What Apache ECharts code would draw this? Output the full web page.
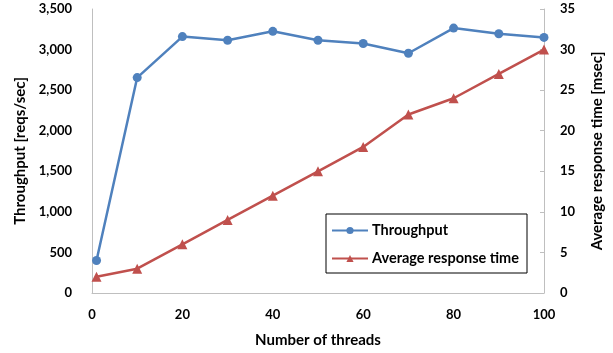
<!DOCTYPE html>
<html><head><meta charset="utf-8">
<script src="https://cdn.jsdelivr.net/npm/echarts@6/dist/echarts.min.js"></script>
<style>html,body{margin:0;padding:0;background:#fff}#c{width:613px;height:353px}</style>
</head><body><div id="c"></div>
<script>
const threads = [1, 10, 20, 30, 40, 50, 60, 70, 80, 90, 100];
const throughput = [400, 2655, 3160, 3115, 3225, 3115, 3075, 2955, 3265, 3195, 3150];
const responseTime = [2, 3, 6, 9, 12, 15, 18, 22, 24, 27, 30];
const FONT = 'Lato';
const chart = echarts.init(document.getElementById('c'));
const lbl = {fontFamily: FONT, fontWeight: 'bold', fontSize: 13, color: '#000'};
const ttl = {fontFamily: FONT, fontWeight: 'bold', fontSize: 15, color: '#000'};
chart.setOption({
  animation: false,
  grid: {left: 92, right: 69, top: 9, bottom: 60},
  legend: {
    orient: 'vertical', left: 326, top: 214, width: 200,
    itemWidth: 36, itemHeight: 9, itemGap: 13,
    padding: [9, 8, 7, 5],
    borderColor: '#000', borderWidth: 1,
    textStyle: {fontFamily: FONT, fontWeight: 'bold', fontSize: 14.5, color: '#000', padding: [0, 0, 0, -1]},
    data: ['Throughput', 'Average response time']
  },
  xAxis: {
    type: 'value', min: 0, max: 100, interval: 20,
    name: 'Number of threads', nameLocation: 'middle', nameGap: 40,
    nameTextStyle: ttl,
    axisLine: {lineStyle: {color: '#BFBFBF'}},
    axisTick: {show: false},
    splitLine: {show: false},
    axisLabel: Object.assign({margin: 15}, lbl)
  },
  yAxis: [{
    type: 'value', min: 0, max: 3500, interval: 500,
    name: 'Throughput [reqs/sec]', nameLocation: 'middle', nameGap: 63, nameRotate: 90,
    nameTextStyle: ttl,
    axisLine: {show: true, lineStyle: {color: '#BFBFBF'}},
    axisTick: {show: false},
    splitLine: {show: false},
    axisLabel: Object.assign({margin: 20, formatter: v => v.toLocaleString('en-US')}, lbl)
  }, {
    type: 'value', min: 0, max: 35, interval: 5, position: 'right',
    name: 'Average response time [msec]', nameLocation: 'middle', nameGap: 46, nameRotate: 90,
    nameTextStyle: ttl,
    axisLine: {show: true, lineStyle: {color: '#BFBFBF'}},
    axisTick: {show: true, inside: true, length: 4, lineStyle: {color: '#BFBFBF'}},
    splitLine: {show: false},
    axisLabel: Object.assign({margin: 16}, lbl)
  }],
  series: [{
    name: 'Throughput', type: 'line', yAxisIndex: 0,
    data: threads.map((t, i) => [t, throughput[i]]),
    symbol: 'circle', symbolSize: 9,
    lineStyle: {color: '#4F81BD', width: 2.5},
    itemStyle: {color: '#4F81BD'}
  }, {
    name: 'Average response time', type: 'line', yAxisIndex: 1,
    data: threads.map((t, i) => [t, responseTime[i]]),
    symbol: 'triangle', symbolSize: 10,
    lineStyle: {color: '#C0504D', width: 2.5},
    itemStyle: {color: '#C0504D'}
  }]
});
</script></body></html>
